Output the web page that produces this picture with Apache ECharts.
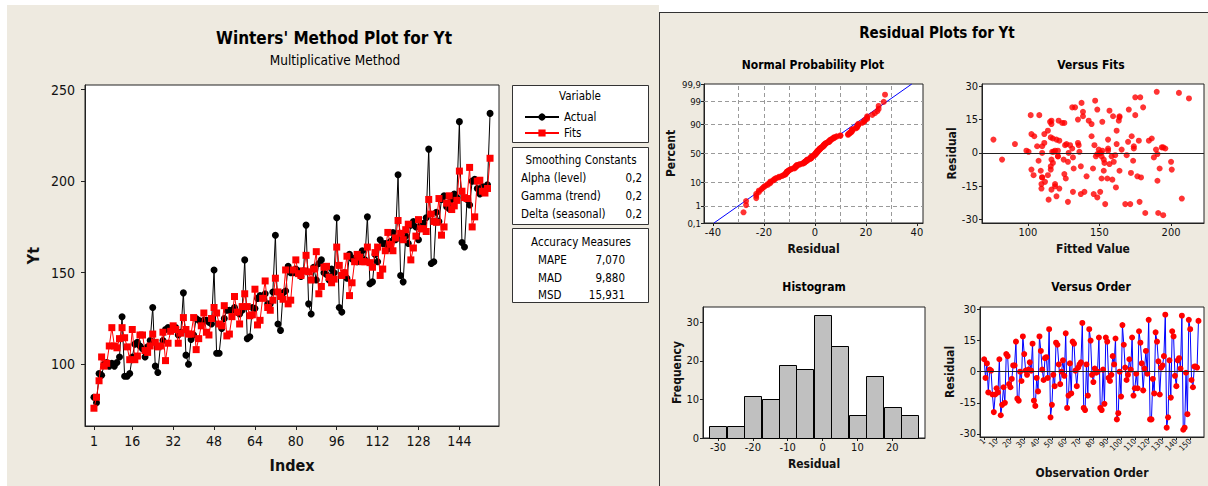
<!DOCTYPE html>
<html><head><meta charset="utf-8">
<script src="https://cdn.jsdelivr.net/npm/echarts@6/dist/echarts.min.js"></script>
<style>
html,body{margin:0;padding:0;background:#fff;}
#wrap{position:relative;width:1208px;height:486px;overflow:hidden;}
#pl{position:absolute;left:7px;top:5px;width:652px;height:481px;background:#EEEAE0;}
#pr{position:absolute;left:659px;top:12px;width:549px;height:474px;background:#EEEAE0;border-left:1px solid #333;border-top:1px solid #333;box-sizing:border-box;}
#c{position:absolute;left:0;top:0;width:1208px;height:486px;}
</style>
</head><body>
<div id="wrap"><div id="pl"></div><div id="pr"></div><div id="c"></div></div>
<script>
// ---------------- data ----------------
const actual = [
 82,79,95,94,100,101,99,100.5,99,101,104,126,
 93.5,93.5,95,104,111,112,110,108.5,104,109.5,113,131,
 99,95.5,110,113,119,120,118.5,119.5,120,116,117.5,139,
 105,100,113.5,116,125,124,122,124,124,123,122,151.5,
 106,106,119.5,125,129.5,129.5,129.5,131,128.5,127.5,129.5,157,
 114,115,131,130.5,136,137.5,136.5,138.5,133,133,139.5,170.5,
 122,118.5,139,140,153.5,150,150,152,151,148,151,176,
 133,127.5,153,146,155,157,150,149,146,152,150,180,
 131,128.5,150,147,160,157.5,158,156,157,162,157,180.5,
 144,145,160,156,168,166,166,163,167,172,168,203.5,
 148.5,145,170,166,176,178,175,168,176,177,180,217.5,
 155,156,183,178,190,192,186,185,190,193,191,232.5,
 166.5,164,190,187,200,201,196,193,197,196,198,237
];
const fits = [
 76,82,91,104,99,100.5,110,120,110,109,114,120,
 114.5,109.5,102.5,119,102.5,104.5,116,116,107.5,106.5,110,116.5,
 112,109.5,110,117.5,102,111.5,118,121,119,111.5,117,125.5,
 119,116.5,116.5,125.5,108,114,121,128,117.5,116,125,131,
 128,122,121,132,115.5,116.5,126,137,128.5,122,131.5,138.5,
 131.5,126.5,127,141,121.5,124,136,145.5,131,129.5,135,147,
 139.5,137,135.5,151.5,133,135,151.5,157,149.5,148.5,151,159.5,
 150.5,146,152,161.5,138.5,142.5,153,153.5,147.5,144.5,146.5,164,
 154,148.5,150,159,137.5,144.5,156,160,158.5,156,156,164,
 155.5,153,161,164,148.5,152,162,172,165.5,162,169,178.5,
 171.5,168,173.5,176.5,157,163.5,170,179,174,174,172.5,190,
 182,178,177.5,190.5,170.5,175,188,192,184.5,186.5,189.5,205.5,
 194.5,191,190.5,207.5,175,180.5,200,200.5,194.5,193.5,196,212.5
];
const residuals = [
 6,-3,4,-10,1,0.5,-11,-19.5,-11,-8,-10,6,
 -21,-16,-7.5,-15,8.5,7.5,-6,-7.5,-3.5,3,3,14.5,
 -13,-14,0,-4.5,17,8.5,0.5,-1.5,1,4.5,0.5,13.5,
 -14,-16.5,-3,-9.5,17,10,1,-4,6.5,7,-3,20.5,
 -22,-16,-1.5,-7,14,13,3.5,-6,0,5.5,-2,18.5,
 -17.5,-11.5,4,-10.5,14.5,13.5,0.5,-7,2,3.5,4.5,23.5,
 -17.5,-18.5,3.5,-11.5,20.5,15,-1.5,-5,1.5,-0.5,0,16.5,
 -17.5,-18.5,1,-15.5,16.5,14.5,-3,-4.5,-1.5,7.5,3.5,16,
 -23,-20,0,-12,22.5,13,2,-4,-1.5,6,1,16.5,
 -11.5,-8,-1,-8,19.5,14,4,-9,1.5,10,-1,25,
 -23,-23,-3.5,-10.5,19,14.5,5,-11,2,3,7.5,27.5,
 -27,-22,5.5,-12.5,19.5,17,-2,-7,5.5,6.5,1.5,27,
 -28,-27,-0.5,-20.5,25,20.5,-4,-7.5,2.5,2.5,2,24.5
];
const histCenters = [-30,-25,-20,-15,-10,-5,0,5,10,15,20,25];
const histCounts  = [3,3,11,10,19,18,32,24,6,16,8,6];
const histBinWidth = 5;
const indexTicks = [1,16,32,48,64,80,96,112,128,144];
const ytTicks = [100,150,200,250];
const orderTicks = [1,10,20,30,40,50,60,70,80,90,100,110,120,130,140,150];
const residTicks = [-30,-15,0,15,30];
const fittedTicks = [100,150,200];
const nppXTicks = [-40,-20,0,20,40];
const nppGridX = [-30,-20,-10,0,10,20,30];
const pctTicks = [0.1,1,10,50,90,99,99.9];
const pctTickLabels = ['0,1','1','10','50','90','99','99,9'];
const pctGrid = [1,10,50,90,99];
const nppLineResid = [-39.6, 38];
const nppLinePct = [0.1, 99.9];
const histXTicks = [-30,-20,-10,0,10,20];
const histYTicks = [0,10,20,30];
const smoothing = [['Alpha (level)','0,2'],['Gamma (trend)','0,2'],['Delta (seasonal)','0,2']];
const accuracy = [['MAPE','7,070'],['MAD','9,880'],['MSD','15,931']];

// ---------------- helpers ----------------
function invNorm(p){
  const a=[-3.969683028665376e+01,2.209460984245205e+02,-2.759285104469687e+02,1.383577518672690e+02,-3.066479806614716e+01,2.506628277459239e+00];
  const b=[-5.447609879822406e+01,1.615858368580409e+02,-1.556989798598866e+02,6.680131188771972e+01,-1.328068155288572e+01];
  const c=[-7.784894002430293e-03,-3.223964580411365e-01,-2.400758277161838e+00,-2.549732539343734e+00,4.374664141464968e+00,2.938163982698783e+00];
  const d=[7.784695709041462e-03,3.224671290700398e-01,2.445134137142996e+00,3.754408661907416e+00];
  const pl=0.02425, ph=1-pl; let q,r;
  if(p<pl){q=Math.sqrt(-2*Math.log(p));return (((((c[0]*q+c[1])*q+c[2])*q+c[3])*q+c[4])*q+c[5])/((((d[0]*q+d[1])*q+d[2])*q+d[3])*q+1);}
  if(p<=ph){q=p-0.5;r=q*q;return (((((a[0]*r+a[1])*r+a[2])*r+a[3])*r+a[4])*r+a[5])*q/(((((b[0]*r+b[1])*r+b[2])*r+b[3])*r+b[4])*r+1);}
  q=Math.sqrt(-2*Math.log(1-p));return -(((((c[0]*q+c[1])*q+c[2])*q+c[3])*q+c[4])*q+c[5])/((((d[0]*q+d[1])*q+d[2])*q+d[3])*q+1);
}
const zOf = pct => invNorm(pct/100);
const n = residuals.length;
const sortedRes = residuals.slice().sort((x,y)=>x-y);
const nppPoints = sortedRes.map((r,i)=>[r, invNorm((i+1-0.3)/(n+0.4))]);
const zLo = zOf(pctTicks[0]), zHi = zOf(pctTicks[pctTicks.length-1]);

const FN = '"Liberation Sans Narrow","DejaVu Sans Condensed","Arial Narrow",sans-serif';

function axisBase(o){
  return Object.assign({
    type:'value', scale:false,
    axisLine:{show:true, onZero:false, lineStyle:{color:'#222', width:1}},
    axisTick:{show:true, inside:false, length:3, lineStyle:{color:'#222'}},
    splitLine:{show:false},
    axisLabel:{fontFamily:FN, fontSize:11, color:'#111', margin:4},
    nameTextStyle:{fontFamily:FN, fontSize:12, fontWeight:'bold', color:'#111'},
    nameLocation:'middle'
  }, o);
}
function withTicks(ax, vals){
  ax.axisTick = Object.assign({}, ax.axisTick, {customValues: vals});
  ax.axisLabel = Object.assign({}, ax.axisLabel, {customValues: vals});
  return ax;
}
function txt(x,y,text,size,bold,align){
  return {type:'text', x:x, y:y, silent:true, z:100,
    style:{text:text, fill:'#000', fontFamily:FN, fontSize:size, fontWeight:bold?'bold':'normal',
      textAlign:align||'center', textVerticalAlign:'middle', align:align||'center', verticalAlign:'middle'}};
}
function box(x,y,w,h){
  return {type:'rect', silent:true, z:0, shape:{x:x+0.5,y:y+0.5,width:w,height:h}, style:{fill:'#fff', stroke:'#333', lineWidth:1}};
}

const graphics = [
  txt(334,38,"Winters' Method Plot for Yt",17,true),
  txt(335,60,'Multiplicative Method',13.5,false),
  box(512,85,136,57), box(512,147,136,77), box(512,228,136,74),
  txt(580,96,'Variable',11.5,false),
  txt(581,160,'Smoothing Constants',11.5,false),
  txt(581,242,'Accuracy Measures',11.5,false),
  txt(937,33,'Residual Plots for Yt',15,true),
  txt(813,65,'Normal Probability Plot',12,true),
  txt(1091,65,'Versus Fits',12,true),
  txt(814,287,'Histogram',12,true),
  txt(1091,287,'Versus Order',12,true)
];
smoothing.forEach((row,i)=>{ graphics.push(txt(521,178+i*18,row[0],11.5,false,'left')); graphics.push(txt(642,178+i*18,row[1],11.5,false,'right')); });
accuracy.forEach((row,i)=>{ graphics.push(txt(538,260+i*17.5,row[0],11.5,false,'left')); graphics.push(txt(625,260+i*17.5,row[1],11.5,false,'right')); });

const gridStyle = {show:true, backgroundColor:'#fff', borderColor:'#222', borderWidth:1, containLabel:false};

const option = {
  animation:false,
  backgroundColor:'transparent',
  graphic:{elements:graphics},
  legend:{
    data:['Actual','Fits'], orient:'vertical', left:519, top:106, itemWidth:34, itemHeight:9, itemGap:4, z:200,
    textStyle:{fontFamily:FN, fontSize:11.5, color:'#000'}, selectedMode:false
  },
  grid:[
    Object.assign({left:85, top:85, width:414, height:341}, gridStyle),
    Object.assign({left:704, top:84, width:219, height:139}, gridStyle),
    Object.assign({left:982, top:84, width:222, height:139}, gridStyle),
    Object.assign({left:703, top:307, width:222, height:131}, gridStyle),
    Object.assign({left:980, top:307, width:224, height:130}, gridStyle)
  ],
  xAxis:[
    withTicks(axisBase({gridIndex:0, min:-2.5, max:159.5, name:'Index', nameGap:31,
      axisTick:{show:true, length:4, lineStyle:{color:'#222'}},
      axisLabel:{fontFamily:FN, fontSize:14, color:'#111', margin:8},
      nameTextStyle:{fontFamily:FN, fontSize:16, fontWeight:'bold', color:'#111'}}), indexTicks),
    withTicks(axisBase({gridIndex:1, min:-43.5, max:42.4, name:'Residual', nameGap:20}), nppXTicks),
    withTicks(axisBase({gridIndex:2, min:68, max:223, name:'Fitted Value', nameGap:20}), fittedTicks),
    withTicks(axisBase({gridIndex:3, min:-34.3, max:29.4, name:'Residual', nameGap:20}), histXTicks),
    withTicks(axisBase({gridIndex:4, min:-2, max:160, name:'Observation Order', nameGap:30,
      axisLabel:{fontFamily:FN, fontSize:8, color:'#111', margin:3, rotate:45}}), orderTicks)
  ],
  yAxis:[
    withTicks(axisBase({gridIndex:0, min:66.3, max:252.5, name:'Yt', nameGap:44, nameRotate:90,
      axisTick:{show:true, length:4, lineStyle:{color:'#222'}},
      axisLabel:{fontFamily:FN, fontSize:14, color:'#111', margin:10},
      nameTextStyle:{fontFamily:FN, fontSize:16, fontWeight:'bold', color:'#111'}}), ytTicks),
    withTicks(axisBase({gridIndex:1, min:zLo, max:zHi, name:'Percent', nameGap:27,
      axisLabel:{fontFamily:FN, fontSize:9.5, color:'#111', margin:3,
        formatter:function(v){let best=0;for(let k=0;k<pctTicks.length;k++){if(Math.abs(zOf(pctTicks[k])-v)<Math.abs(zOf(pctTicks[best])-v))best=k;}return pctTickLabels[best];}}}),
      pctTicks.map(zOf)),
    withTicks(axisBase({gridIndex:2, min:-31.5, max:31, name:'Residual', nameGap:24}), residTicks),
    withTicks(axisBase({gridIndex:3, min:0, max:34, name:'Frequency', nameGap:19}), histYTicks),
    withTicks(axisBase({gridIndex:4, min:-31.5, max:31.2, name:'Residual', nameGap:24}), residTicks)
  ],
  series:[
    {name:'Actual', type:'line', xAxisIndex:0, yAxisIndex:0,
      data:actual.map((v,i)=>[i+1,v]), symbol:'circle', symbolSize:7, showSymbol:true,
      itemStyle:{color:'#000'}, lineStyle:{color:'#000', width:1}, z:3},
    {name:'Fits', type:'line', xAxisIndex:0, yAxisIndex:0,
      data:fits.map((v,i)=>[i+1,v]), symbol:'rect', symbolSize:7, showSymbol:true,
      itemStyle:{color:'#ff0000'}, lineStyle:{color:'#ff0000', width:1}, z:4},
    {type:'line', xAxisIndex:1, yAxisIndex:1, silent:true,
      data:nppLineResid.map((r,i)=>[r, zOf(nppLinePct[i])]), symbol:'none',
      lineStyle:{color:'#0000ff', width:1}, z:3},
    {type:'scatter', xAxisIndex:1, yAxisIndex:1, data:nppPoints, symbol:'circle', symbolSize:6,
      itemStyle:{color:'#ff0000'}, z:4,
      markLine:{silent:true, symbol:'none', label:{show:false}, z:1,
        lineStyle:{color:'#9a9a9a', type:[4,3], width:1},
        data: nppGridX.map(v=>({xAxis:v})).concat(pctGrid.map(p=>({yAxis:zOf(p)})))}},
    {type:'scatter', xAxisIndex:2, yAxisIndex:2, data:fits.map((f,i)=>[f, residuals[i]]),
      symbol:'circle', symbolSize:6, itemStyle:{color:'#ff0000'}, z:4,
      markLine:{silent:true, symbol:'none', label:{show:false}, lineStyle:{color:'#222', type:'solid', width:1}, data:[{yAxis:0}]}},
    {type:'custom', xAxisIndex:3, yAxisIndex:3, data:histCenters.map((c,i)=>[c, histCounts[i]]),
      renderItem:function(params, api){
        const c = api.value(0), h = api.value(1);
        const p0 = api.coord([c - histBinWidth/2, 0]);
        const p1 = api.coord([c + histBinWidth/2, h]);
        return {type:'rect', shape:{x:Math.round(p0[0])+0.5, y:Math.round(p1[1])+0.5, width:Math.round(p1[0]-p0[0]), height:Math.round(p0[1]-p1[1])},
          style:{fill:'#c0c0c0', stroke:'#000', lineWidth:1}};
      }},
    {type:'line', xAxisIndex:4, yAxisIndex:4, data:residuals.map((r,i)=>[i+1,r]),
      symbol:'circle', symbolSize:6, showSymbol:true, itemStyle:{color:'#ff0000'},
      lineStyle:{color:'#0000ff', width:1}, z:4,
      markLine:{silent:true, symbol:'none', label:{show:false}, lineStyle:{color:'#222', type:'solid', width:1}, data:[{yAxis:0}]}}
  ]
};
const chart = echarts.init(document.getElementById('c'), null, {renderer:'svg', width:1208, height:486});
chart.setOption(option);
</script>
</body></html>
